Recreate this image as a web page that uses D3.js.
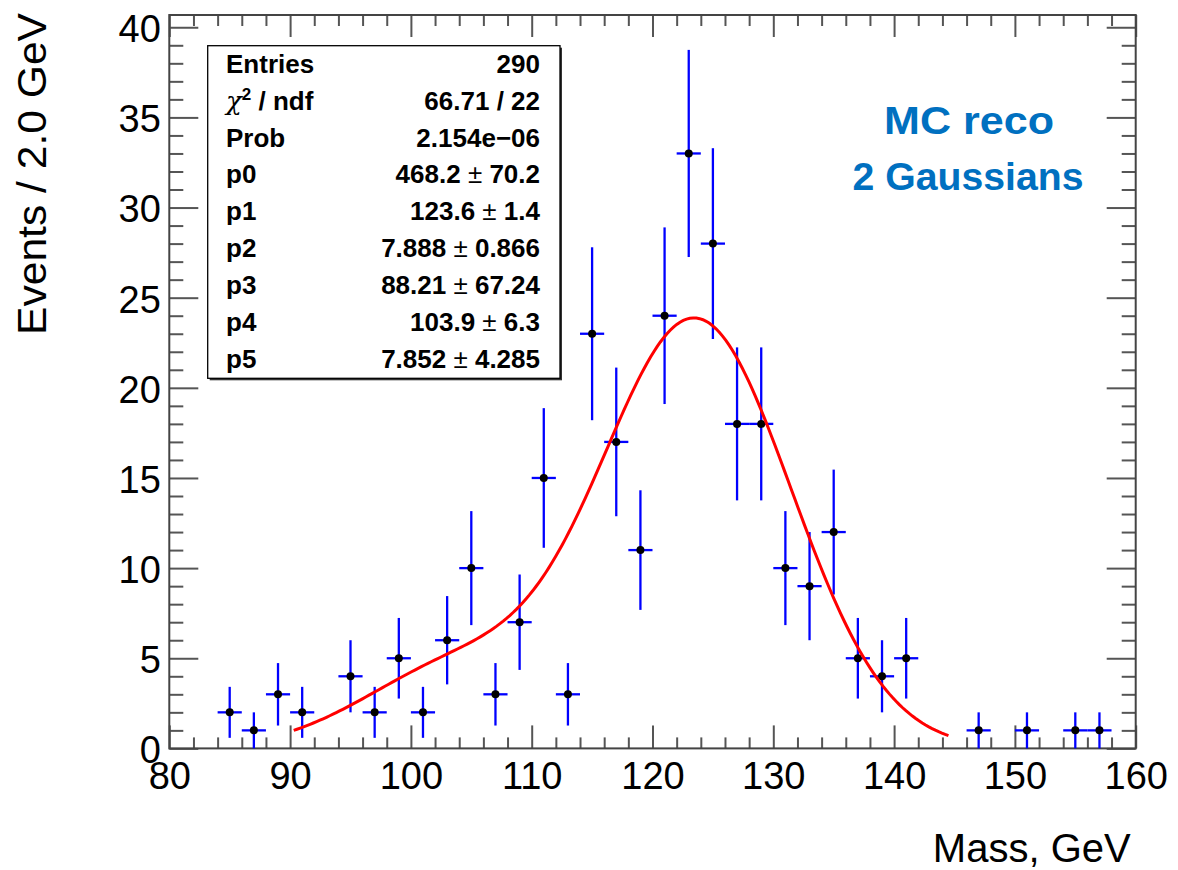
<!DOCTYPE html>
<html>
<head>
<meta charset="utf-8">
<script src="https://cdn.jsdelivr.net/npm/d3@7"></script>
<style>
  html, body { margin: 0; padding: 0; background: #fff; }
  svg { display: block; }
  text { font-family: "Liberation Sans", Arial, Helvetica, sans-serif; }
</style>
</head>
<body>
<div id="chart"></div>
<script>
// ---- data ----
const binCenters = [85, 87, 89, 91, 95, 97, 99, 101, 103, 105, 107, 109, 111, 113, 115, 117, 119, 121, 123, 125, 127, 129, 131, 133, 135, 137, 139, 141, 147, 151, 155, 157];
const binCounts  = [2, 1, 3, 2, 4, 2, 5, 2, 6, 10, 3, 7, 15, 3, 23, 17, 11, 24, 33, 28, 18, 18, 10, 9, 12, 5, 4, 5, 1, 1, 1, 1];
const binErrors  = [1.414, 1, 1.732, 1.414, 2, 1.414, 2.236, 1.414, 2.449, 3.162, 1.732, 2.646, 3.873, 1.732, 4.796, 4.123, 3.317, 4.899, 5.745, 5.292, 4.243, 4.243, 3.162, 3, 3.464, 2.236, 2, 2.236, 1, 1, 1, 1];
const binHalfWidth = 1.0;

// fit parameters (from the stats box): two normalised Gaussians
const fitParams = [468.2, 123.6, 7.888, 88.21, 103.9, 7.852];
const fitRange = [90.3, 144.5];

const statLabels = ["Entries", "χ2 / ndf", "Prob", "p0", "p1", "p2", "p3", "p4", "p5"];
const statValues = ["290", "66.71 / 22", "2.154e\u221206", "468.2 ± 70.2", "123.6 ± 1.4", "7.888 ± 0.866", "88.21 ± 67.24", "103.9 ± 6.3", "7.852 ± 4.285"];

const xTickValues = [80, 90, 100, 110, 120, 130, 140, 150, 160];
const yTickValues = [0, 5, 10, 15, 20, 25, 30, 35, 40];
const xTitle = "Mass, GeV";
const yTitle = "Events / 2.0 GeV";
const noteLines = ["MC reco", "2 Gaussians"];

// ---- layout ----
const W = 1178, H = 870;
const L = 169.3, R = 1135.7, T = 15, B = 748.4;
const x = d3.scaleLinear().domain([80, 160]).range([L, R]);
const y = d3.scaleLinear().domain([0, 40.68]).range([B, T]);

const svg = d3.select("#chart").append("svg").attr("width", W).attr("height", H);

const xMinor = d3.range(80, 160.001, 2).filter(v => v % 10 !== 0);
const yMinor = d3.range(0, 40.001, 1).filter(v => v % 5 !== 0);

const tickColor = "#555";
function styleAxis(g) {
  g.select(".domain").remove();
  g.selectAll(".tick line").attr("stroke", tickColor).attr("stroke-width", 2);
}

// bottom axis
svg.append("g").attr("transform", `translate(0,${B})`)
  .call(d3.axisBottom(x).tickValues(xMinor).tickSizeInner(-11).tickSizeOuter(0).tickFormat(""))
  .call(styleAxis);
const bx = svg.append("g").attr("transform", `translate(0,${B})`)
  .call(d3.axisBottom(x).tickValues(xTickValues).tickSizeInner(-23).tickSizeOuter(0).tickPadding(13.5).tickFormat(d3.format("d")))
  .call(styleAxis);
bx.selectAll("text").attr("font-size", 38).attr("fill", "#000")
  .attr("font-family", "'Liberation Sans', Arial, sans-serif");

// top axis
svg.append("g").attr("transform", `translate(0,${T})`)
  .call(d3.axisTop(x).tickValues(xMinor).tickSizeInner(-11).tickSizeOuter(0).tickFormat(""))
  .call(styleAxis);
svg.append("g").attr("transform", `translate(0,${T})`)
  .call(d3.axisTop(x).tickValues(xTickValues).tickSizeInner(-22).tickSizeOuter(0).tickFormat(""))
  .call(styleAxis);

// left axis
svg.append("g").attr("transform", `translate(${L},0)`)
  .call(d3.axisLeft(y).tickValues(yMinor).tickSizeInner(-14).tickSizeOuter(0).tickFormat(""))
  .call(styleAxis);
const ly = svg.append("g").attr("transform", `translate(${L},0)`)
  .call(d3.axisLeft(y).tickValues(yTickValues).tickSizeInner(-29).tickSizeOuter(0).tickPadding(8.5).tickFormat(d3.format("d")))
  .call(styleAxis);
ly.selectAll("text").attr("font-size", 38).attr("fill", "#000").attr("dy", "0.38em")
  .attr("font-family", "'Liberation Sans', Arial, sans-serif");

// right axis
svg.append("g").attr("transform", `translate(${R},0)`)
  .call(d3.axisRight(y).tickValues(yMinor).tickSizeInner(-14).tickSizeOuter(0).tickFormat(""))
  .call(styleAxis);
svg.append("g").attr("transform", `translate(${R},0)`)
  .call(d3.axisRight(y).tickValues(yTickValues).tickSizeInner(-29).tickSizeOuter(0).tickFormat(""))
  .call(styleAxis);

// frame
svg.append("rect").attr("x", L).attr("y", T).attr("width", R - L).attr("height", B - T)
  .attr("fill", "none").attr("stroke", "#444").attr("stroke-width", 2);

// axis titles
svg.append("text").attr("x", R - 5).attr("y", 862).attr("text-anchor", "end")
  .attr("font-size", 40).attr("fill", "#000").text(xTitle);
svg.append("text").attr("transform", `translate(46,335) rotate(-90)`).attr("text-anchor", "start")
  .attr("font-size", 40).attr("fill", "#000")
  .attr("textLength", 322).attr("lengthAdjust", "spacingAndGlyphs").text(yTitle);

// fit curve
const gauss = (xv, a, m, s) => a / (Math.sqrt(2 * Math.PI) * s) * Math.exp(-0.5 * ((xv - m) / s) ** 2);
const fitX = d3.range(fitRange[0], fitRange[1] + 0.0001, (fitRange[1] - fitRange[0]) / 200);
const fitPts = fitX.map(v => [v, gauss(v, fitParams[0], fitParams[1], fitParams[2]) + gauss(v, fitParams[3], fitParams[4], fitParams[5])]);

// data points with error bars
const pts = binCenters.map((c, i) => ({c, v: binCounts[i], e: binErrors[i]}));
const eg = svg.append("g");
eg.selectAll("line.v").data(pts).join("line").attr("class", "v")
  .attr("x1", d => x(d.c)).attr("x2", d => x(d.c))
  .attr("y1", d => y(Math.max(0, d.v - d.e))).attr("y2", d => y(d.v + d.e))
  .attr("stroke", "#0000ff").attr("stroke-width", 2.3);
eg.selectAll("line.h").data(pts).join("line").attr("class", "h")
  .attr("x1", d => x(d.c - binHalfWidth)).attr("x2", d => x(d.c + binHalfWidth))
  .attr("y1", d => y(d.v)).attr("y2", d => y(d.v))
  .attr("stroke", "#0000ff").attr("stroke-width", 2.3);

svg.append("path").datum(fitPts)
  .attr("d", d3.line().x(d => x(d[0])).y(d => y(d[1])))
  .attr("fill", "none").attr("stroke", "#ff0000").attr("stroke-width", 3);

eg.selectAll("circle").data(pts).join("circle")
  .attr("cx", d => x(d.c)).attr("cy", d => y(d.v)).attr("r", 4).attr("fill", "#000");

// stats box
const sb = {x: 207.7, y: 45.7, w: 352.3, h: 332.6};
svg.append("rect").attr("x", sb.x + 2).attr("y", sb.y + 2).attr("width", sb.w).attr("height", sb.h)
  .attr("fill", "#333");
svg.append("rect").attr("x", sb.x).attr("y", sb.y).attr("width", sb.w).attr("height", sb.h)
  .attr("fill", "#fff").attr("stroke", "#000").attr("stroke-width", 1.3);

const rowY = i => 72.7 + i * 36.9;
const lab = svg.append("g").attr("font-size", 26).attr("font-weight", "bold").attr("fill", "#000");
statLabels.forEach((s, i) => {
  const t = lab.append("text").attr("x", 226).attr("y", rowY(i));
  if (s.startsWith("χ2")) {
    t.append("tspan").attr("font-weight", "normal").attr("font-family", "'DejaVu Serif', serif").attr("font-style", "italic").text("χ");
    t.append("tspan").attr("font-size", 17).attr("dy", -10).text("2");
    t.append("tspan").attr("dy", 10).text(" / ndf");
  } else {
    t.text(s);
  }
});
statValues.forEach((s, i) => {
  const t = lab.append("text").attr("x", 540).attr("y", rowY(i)).attr("text-anchor", "end");
  const parts = s.split("±");
  if (parts.length === 2) {
    t.append("tspan").text(parts[0]);
    t.append("tspan").attr("font-weight", "normal").text("±");
    t.append("tspan").text(parts[1]);
  } else {
    t.text(s);
  }
});

// annotation
const note = svg.append("g").attr("fill", "#0070c0").attr("font-weight", "bold").attr("font-size", 39);
note.append("text").attr("x", 969).attr("y", 134).attr("text-anchor", "middle")
  .attr("font-family", "Lato, 'Open Sans', sans-serif")
  .attr("textLength", 170).attr("lengthAdjust", "spacingAndGlyphs").text(noteLines[0]);
note.append("text").attr("x", 968).attr("y", 190).attr("text-anchor", "middle")
  .attr("font-family", "Lato, 'Open Sans', sans-serif")
  .attr("textLength", 231).attr("lengthAdjust", "spacingAndGlyphs").text(noteLines[1]);
</script>
</body>
</html>
